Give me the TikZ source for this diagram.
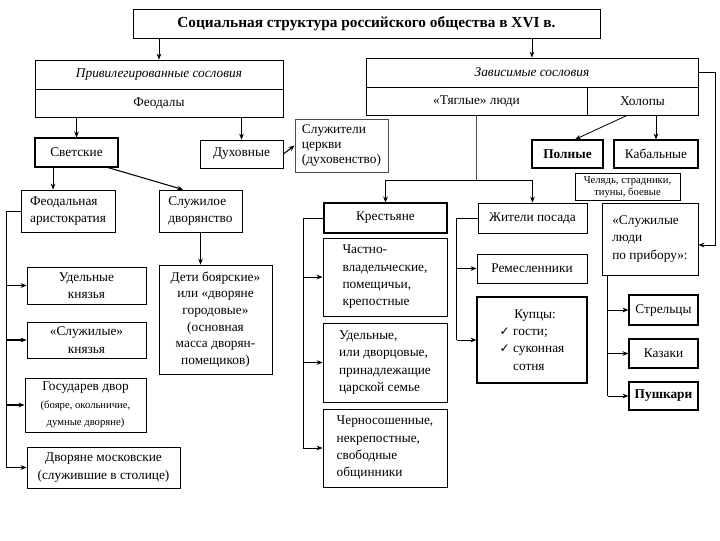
\documentclass[tikz,border=0pt]{standalone}
\usepackage{fontspec}
\setmainfont{Liberation Serif}
\newfontfamily\symfont{DejaVu Sans}
\usetikzlibrary{arrows.meta,calc}
\newcommand{\fs}{\fontsize{10}{13}\selectfont}
\newcommand{\chk}{{\symfont\small ✓}}

\begin{document}
\begin{tikzpicture}[x=0.75pt,y=-0.75pt,line width=0.6pt,font=\fs,
  >={Stealth[length=4.5pt,width=3.5pt]},
  wh/.style 2 args={minimum width=#1*0.75pt,minimum height=#2*0.75pt}]
\tikzstyle{box}=[draw,inner sep=2pt]

\useasboundingbox (0,0) rectangle (720,540);

\node[box,wh={467}{29},font=\fontsize{11.5}{13}\selectfont\bfseries] (title) at (366.5,23.5) {Социальная структура российского общества в XVI в.};

\node[box,wh={248}{29},font=\fs\itshape] (priv) at (159,74.5) {Привилегированные сословия};
\node[box,wh={248}{28}] (feod) at (159,103) {Феодалы};
\node[box,wh={332}{29},font=\fs\itshape] (zavis) at (532,72.5) {Зависимые сословия};
\node[box,wh={221}{28}] (tyag) at (476.5,101) {«Тяглые» люди};
\node[box,wh={111}{28}] (holop) at (642.5,101) {Холопы};
\draw[very thick] (zavis.south west) -- (zavis.south east);

\node[box,thick,wh={83}{29}] (svet) at (76.5,152.5) {Светские};
\node[box,wh={83}{28}] (dukh) at (241.5,154) {Духовные};
\node[box,draw=black!70,wh={93}{53},align=left,font=\fontsize{10}{11.5}\selectfont] (church) at (341.5,145.5) {Служители\\церкви\\(духовенство)};
\node[box,thick,wh={71}{28},font=\fs\bfseries] (poln) at (567.5,154) {Полные};
\node[box,thick,wh={84}{28}] (kabal) at (656,154) {Кабальные};
\node[box,wh={105}{26},align=center,font=\fontsize{8}{9.5}\selectfont] (chel) at (627.5,187) {Челядь, страдники,\\тиуны, боевые};

\node[box,wh={94}{42},align=left] (fario) at (68,211) {Феодальная\\аристократия};
\node[box,wh={83}{42},align=left] (sldvor) at (200.5,211) {Служилое\\дворянство};
\node[box,wh={119}{37},align=center] (udkn) at (86.5,285.5) {Удельные\\князья};
\node[box,wh={119}{36},align=center] (slkn) at (86.5,340) {«Служилые»\\князья};
\node[box,wh={121}{54},align=center] (gosd) at (85.5,405) {Государев двор\\{\fontsize{8}{10}\selectfont (бояре, окольничие,}\\{\fontsize{8}{10}\selectfont думные дворяне)}};
\node[box,wh={153}{41},align=center] (dvmo) at (103.5,467.5) {Дворяне московские\\(служившие в столице)};
\node[box,wh={113}{109},align=center,font=\fontsize{10}{12.5}\selectfont] (deti) at (215.5,319.5) {Дети боярские»\\или «дворяне\\городовые»\\(основная\\масса дворян-\\помещиков)};

\node[box,thick,wh={123}{30}] (krest) at (385.5,218) {Крестьяне};
\node[box,wh={124}{78},align=left] (chast) at (385,277) {Частно-\\владельческие,\\помещичьи,\\крепостные};
\node[box,wh={124}{79},align=left] (udel) at (385,362.5) {Удельные,\\или дворцовые,\\принадлежащие\\царской семье};
\node[box,wh={124}{78},align=left] (chern) at (385,448) {Черносошенные,\\некрепостные,\\свободные\\общинники};

\node[box,wh={109}{30}] (zhit) at (532.5,218) {Жители посада};
\node[box,wh={110}{29}] (remes) at (532,268.5) {Ремесленники};
\node[box,thick,wh={110}{86},align=left] (kupc) at (532,340) {\hspace*{1.1em}Купцы:\\\chk\ гости;\\\chk\ суконная\\\phantom{\chk\ }сотня};

\node[box,wh={96}{72},align=left] (sprib) at (650,239) {«Служилые\\люди\\по прибору»:};
\node[box,thick,wh={69}{30}] (strel) at (663.5,310) {Стрельцы};
\node[box,thick,wh={69}{29}] (kazak) at (663.5,353.5) {Казаки};
\node[box,thick,wh={69}{28},font=\fs\bfseries] (pushk) at (663.5,396) {Пушкари};

% top level
\draw[->] (title.south -| priv.north) -- (priv.north);
\draw[->] (title.south -| zavis.north) -- (zavis.north);
\draw[->] (feod.south -| svet.north) -- (svet.north);
\draw[->] (feod.south -| dukh.north) -- (dukh.north);
\draw[->,thick] (dukh.east) -- (church.west);

% secular feudals
\coordinate (s1) at ([xshift=-17.6pt]svet.south);
\draw[->,thick] (s1) -- (s1 |- fario.north);
\draw[->,thick] ([xshift=-8pt]svet.south east) -- ([xshift=-13pt]sldvor.north);
\draw[->] (sldvor.south) -- (sldvor.south |- deti.north);
\coordinate (fs) at ([xshift=-10.5pt]fario.west);
\draw (fario.west) -- (fs) -- (fs |- dvmo.west);
\foreach \n in {udkn,slkn,gosd,dvmo}
  \draw[->,thick] (fs |- \n.west) -- (\n.west);

% dependent estates
\coordinate (tj) at ([yshift=-48.75pt]tyag.south);
\draw[very thick,black!70] (tyag.south) -- (tj);
\draw (tj -| krest.north) -- (tj -| zhit.north);
\draw[->] (tj -| krest.north) -- (krest.north);
\draw[->] (tj -| zhit.north) -- (zhit.north);
\draw[->] ([xshift=-11.6pt]holop.south) -- ([xshift=5.6pt]poln.north);
\draw[->] (holop.south -| kabal.north) -- (kabal.north);
\draw[->] (zavis.east) -- ++(17,0) |- ([yshift=-4.5pt]sprib.east);

\coordinate (ks) at ([xshift=-15pt]krest.west);
\draw (krest.west) -- (ks) -- (ks |- chern.west);
\foreach \n in {chast,udel,chern}
  \draw[->] (ks |- \n.west) -- (\n.west);

\coordinate (zs) at ([xshift=-15.75pt]zhit.west);
\draw (zhit.west) -- (zs) -- (zs |- kupc.west);
\foreach \n in {remes,kupc}
  \draw[->] (zs |- \n.west) -- (\n.west);

\coordinate (ps) at ([xshift=4.5pt]sprib.south west);
\draw (ps) -- (ps |- pushk.west);
\foreach \n in {strel,kazak,pushk}
  \draw[->] (ps |- \n.west) -- (\n.west);

\end{tikzpicture}
\end{document}
